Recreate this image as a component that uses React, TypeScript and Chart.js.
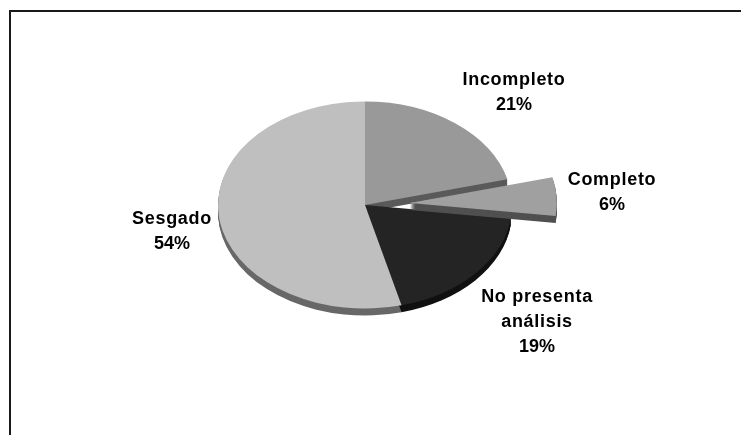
import React, { useEffect, useRef } from "react";
import { Chart, registerables } from "chart.js";

Chart.register(...registerables);

const categories = ["Incompleto", "Completo", "No presenta análisis", "Sesgado"];
const shares = [21, 6, 19, 54];
const categoryLines = [["Incompleto"], ["Completo"], ["No presenta", "análisis"], ["Sesgado"]];

const faceColors = ["#999999", "#a0a0a0", "#242424", "#bfbfbf"];
const sideColors = ["#5a5a5a", "#505050", "#111111", "#686868"];
const explodeOffsets = [0, 180, 0, 0];

// Flattening of the disc and thickness of its side wall, in pixels.
const TILT = 0.704;
const DEPTH = 7;
const EXPLODED_INDEX = 1;

// Centre x and first baseline of each label block.
const labelAnchors = [
  { x: 514, y: 85 },
  { x: 612, y: 185 },
  { x: 537, y: 302 },
  { x: 172, y: 224 },
];
const LINE_HEIGHT = 25;

function tilt(ctx: CanvasRenderingContext2D, cx: number, cy: number, shift = 0) {
  ctx.translate(cx, cy + shift);
  ctx.scale(1, TILT);
  ctx.translate(-cx, -cy);
}

// Chart.js widens an offset arc by this much when it draws it.
function radiusGrowth(arc: any, index: number) {
  const fix = 1 - Math.sin(Math.min(Math.PI, arc.circumference || 0));
  return (explodeOffsets[index] / 4) * fix;
}

function fillSector(ctx: CanvasRenderingContext2D, arc: any, index: number, shift: number, color: string) {
  const { x, y, startAngle, endAngle, outerRadius } = arc;
  const mid = (startAngle + endAngle) / 2;
  const off = explodeOffsets[index] / 4;
  const ox = x + Math.cos(mid) * off;
  const oy = y + Math.sin(mid) * off;
  const radius = outerRadius + radiusGrowth(arc, index);
  ctx.save();
  tilt(ctx, x, y, shift);
  ctx.fillStyle = color;
  ctx.beginPath();
  ctx.moveTo(ox, oy);
  ctx.arc(ox, oy, radius, startAngle, endAngle);
  ctx.closePath();
  ctx.fill();
  ctx.restore();
}

function drawSide(ctx: CanvasRenderingContext2D, arc: any, index: number) {
  for (let d = DEPTH; d >= 1; d--) {
    fillSector(ctx, arc, index, d, sideColors[index]);
  }
}

const tiltedPie = {
  id: "tiltedPie",
  afterDatasetsUpdate(chart: any) {
    // Keep the pulled slice at the same radius as the rest of the disc.
    const arcs = chart.getDatasetMeta(0).data;
    arcs.forEach((arc: any, i: number) => {
      arc.outerRadius -= radiusGrowth(arc, i);
    });
  },
  beforeDatasetsDraw(chart: any) {
    const { ctx } = chart;
    const arcs = chart.getDatasetMeta(0).data;
    [3, 2, 0].forEach((i) => drawSide(ctx, arcs[i], i));
    ctx.save();
    tilt(ctx, arcs[0].x, arcs[0].y);
  },
  afterDatasetsDraw(chart: any) {
    const { ctx } = chart;
    const arcs = chart.getDatasetMeta(0).data;
    ctx.restore();
    // The pulled-out slice sits above its neighbours, at its full angular width.
    const arc = arcs[EXPLODED_INDEX];
    drawSide(ctx, arc, EXPLODED_INDEX);
    fillSector(ctx, arc, EXPLODED_INDEX, 0, faceColors[EXPLODED_INDEX]);

    ctx.save();
    ctx.fillStyle = "#000000";
    ctx.font = 'bold 18px "Liberation Sans", Arial, sans-serif';
    ctx.textAlign = "center";
    ctx.textBaseline = "alphabetic";
    categories.forEach((_, i) => {
      const { x, y } = labelAnchors[i];
      const lines = categoryLines[i];
      (ctx as any).letterSpacing = "0.7px";
      lines.forEach((line, n) => ctx.fillText(line, x, y + n * LINE_HEIGHT));
      (ctx as any).letterSpacing = "0px";
      ctx.fillText(`${shares[i]}%`, x, y + lines.length * LINE_HEIGHT);
    });
    ctx.restore();

    // Frame: only the top and left rules are present.
    ctx.save();
    ctx.fillStyle = "#1a1a1a";
    ctx.fillRect(9, 10, 741 - 9, 2);
    ctx.fillRect(9, 10, 2, 435 - 10);
    ctx.restore();
  },
};

export default function App() {
  const canvasRef = useRef<HTMLCanvasElement>(null);

  useEffect(() => {
    const chart = new Chart(canvasRef.current!, {
      type: "pie",
      data: {
        labels: categories,
        datasets: [
          {
            data: shares,
            backgroundColor: faceColors,
            borderWidth: 0,
            offset: explodeOffsets,
            radius: 147,
            clip: false,
          } as any,
        ],
      },
      options: {
        responsive: false,
        animation: false,
        layout: { padding: { left: 0, top: 0, right: 11, bottom: 25 } },
        plugins: { legend: { display: false }, tooltip: { enabled: false } },
      },
      plugins: [tiltedPie],
    });
    return () => chart.destroy();
  }, []);

  return (
    <div style={{ position: "absolute", left: 0, top: 0, width: 741, height: 435, background: "#ffffff" }}>
      <canvas ref={canvasRef} width={741} height={435} style={{ display: "block" }} />
    </div>
  );
}
